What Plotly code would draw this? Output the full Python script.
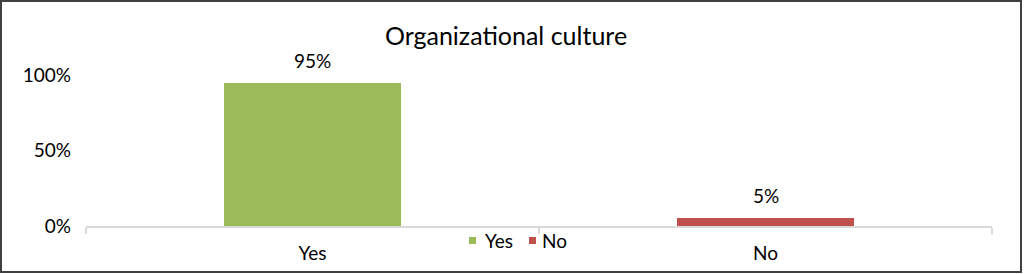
import plotly.graph_objects as go

categories = ["Yes", "No"]
series_names = ["Yes", "No"]
yes_values = [0.95, None]
no_values = [None, 0.05]
labels = ["95%", "5%"]
colors = ["#9BBB59", "#C0504D"]
y_ticks = [0, 0.5, 1.0]
y_tick_labels = ["0%", "50%", "100%"]

W, H = 1024, 274
ml, mr, mt, mb = 86, 32, 75, 48
pw, ph = W - ml - mr, H - mt - mb
FONT = "Lato, Calibri, sans-serif"


def px2paper_x(px):
    return (px - ml) / pw


def px2paper_y(py):
    return (H - mb - py) / ph


fig = go.Figure()
for name, vals, col in zip(series_names, [yes_values, no_values], colors):
    fig.add_trace(go.Bar(x=categories, y=vals, name=name, marker_color=col,
                         width=0.39, marker_line_width=0, showlegend=False))

vals = [yes_values[0], no_values[1]]
for c, v, t in zip(categories, vals, labels):
    fig.add_annotation(x=c, y=v, text=t, showarrow=False, yanchor="bottom", yshift=9,
                       font=dict(family=FONT, size=19, color="#000000"))

# legend drawn as swatches + text
legend_sq_x = [469, 529]
legend_tx_x = [483, 540]
for name, col, sx, tx in zip(series_names, colors, legend_sq_x, legend_tx_x):
    fig.add_shape(type="rect", xref="paper", yref="paper",
                  x0=px2paper_x(sx), x1=px2paper_x(sx + 7),
                  y0=px2paper_y(244), y1=px2paper_y(237),
                  line=dict(width=0), fillcolor=col)
    fig.add_annotation(xref="paper", yref="paper", x=px2paper_x(tx), y=px2paper_y(240),
                       xanchor="left", yanchor="middle", showarrow=False, text=name,
                       font=dict(family=FONT, size=19, color="#000000"))

fig.add_shape(type="rect", xref="paper", yref="paper",
              x0=px2paper_x(1), x1=px2paper_x(1021), y0=px2paper_y(272), y1=px2paper_y(1),
              line=dict(color="#404040", width=2), fillcolor="rgba(0,0,0,0)", layer="above")

fig.update_layout(
    width=W, height=H,
    margin=dict(l=ml, r=mr, t=mt, b=mb, autoexpand=False),
    barmode="overlay",
    paper_bgcolor="white", plot_bgcolor="white",
    title=dict(text="Organizational culture", x=506 / W, xref="container", xanchor="center",
               y=1 - 36 / H, yanchor="middle", yref="container",
               font=dict(family=FONT, size=25, color="#000000")),
    font=dict(family=FONT, size=19, color="#000000"),
    showlegend=False,
    bargap=0,
)
fig.update_xaxes(showline=True, linecolor="#D9D9D9", linewidth=2, ticks="outside",
                 tickcolor="#D9D9D9", ticklen=6, tickwidth=2, tickson="boundaries",
                 showgrid=False, tickfont=dict(family=FONT, size=19), ticklabelstandoff=9,
                 automargin=False)
fig.update_yaxes(range=[0, 1], tickvals=y_ticks, ticktext=y_tick_labels, showgrid=False,
                 showline=False, zeroline=False, ticks="", tickfont=dict(family=FONT, size=19),
                 ticklabelstandoff=14, automargin=False)

fig.write_html("out.html")
